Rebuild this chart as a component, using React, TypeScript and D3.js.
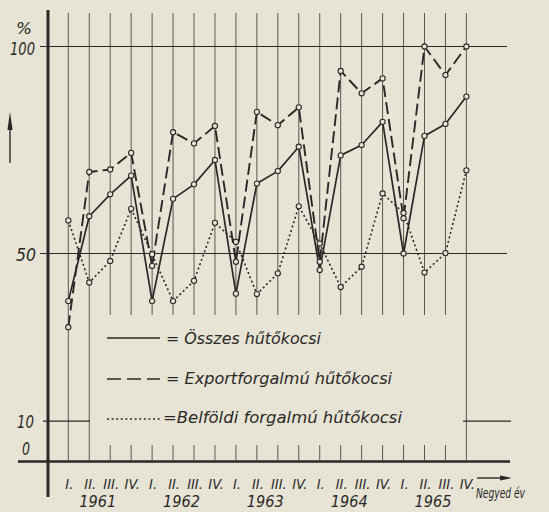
import React from 'react';
import * as d3 from 'd3';

const years = ['1961', '1962', '1963', '1964', '1965'];
const quarterLabels = ['I.', 'II.', 'III.', 'IV.'];
const yTicks = [0, 10, 50, 100];

// Összes hűtőkocsi (solid)
const osszes = [38.5, 59.0, 64.3, 68.8, 38.5, 63.2, 66.7, 72.6, 40.3, 66.9, 69.9, 75.8, 46.0, 73.7, 76.2, 81.8, 50.0, 78.4, 81.3, 87.9];
// Exportforgalmú hűtőkocsi (dashed)
const exportf = [32.2, 69.7, 70.3, 74.3, 47.0, 79.3, 76.6, 80.8, 48.0, 84.2, 81.0, 85.3, 48.0, 94.1, 88.7, 92.3, 58.5, 100.0, 93.1, 100.0];
// Belföldi forgalmú hűtőkocsi (dotted)
const belfoldi = [58.0, 43.0, 48.2, 60.8, 49.8, 38.5, 43.4, 57.4, 52.8, 40.2, 45.2, 61.4, 52.4, 41.9, 46.8, 64.5, 59.8, 45.4, 50.1, 70.1];

const W = 549;
const H = 512;
const INK = '#2a2826';
const GRID = '#4a4742';
const BG = '#e7e4d6';
const FONT = '"DejaVu Sans Condensed", "DejaVu Sans", sans-serif';

export default function App() {
  const n = osszes.length;
  const x = d3.scaleLinear().domain([0, n - 1]).range([68.3, 466.4]);
  const y = d3.scaleLinear().domain([0, 100]).range([460.5, 46.5]);
  const axisY = y(0);
  const axisX = 48;
  const line = d3.line<number>().x((_, i) => x(i)).y((d) => y(d));

  const series = [
    { data: osszes, dash: undefined as string | undefined, width: 1.7 },
    { data: exportf, dash: '12 5', width: 1.9 },
    { data: belfoldi, dash: '2 2.6', width: 1.6 },
  ];

  const legend = [
    { dash: undefined as string | undefined, label: '= Összes hűtőkocsi', ly: 338, ty: 344, tx: 166, tl: 155 },
    { dash: '14 6', label: '= Exportforgalmú hűtőkocsi', ly: 379, ty: 384, tx: 166, tl: 226 },
    { dash: '2 2.6', label: '=Belföldi forgalmú hűtőkocsi', ly: 419, ty: 423, tx: 163, tl: 239 },
  ];

  const idx = d3.range(n);

  return (
    <svg width={W} height={H} style={{ position: 'absolute', left: 0, top: 0, background: BG }}>
      <rect x={0} y={0} width={W} height={H} fill={BG} />
      {/* vertical quarter lines */}
      {idx.map((i) => {
        const long = i <= 1 || i === n - 1;
        return (
          <g key={'v' + i}>
            <line x1={x(i)} x2={x(i)} y1={13} y2={long ? axisY : 315} stroke={GRID} strokeWidth={0.9} />
            {!long && <line x1={x(i)} x2={x(i)} y1={445} y2={axisY} stroke={GRID} strokeWidth={0.9} />}
          </g>
        );
      })}
      {/* horizontal reference lines */}
      <line x1={40} x2={507} y1={y(100)} y2={y(100)} stroke={INK} strokeWidth={1.1} />
      <line x1={40} x2={507} y1={y(50)} y2={y(50)} stroke={INK} strokeWidth={1.1} />
      <line x1={43} x2={90} y1={y(10) + 2} y2={y(10) + 2} stroke={INK} strokeWidth={1.1} />
      <line x1={463} x2={511} y1={y(10) + 2} y2={y(10) + 2} stroke={INK} strokeWidth={1.1} />
      {/* axes */}
      <line x1={axisX} x2={axisX} y1={10} y2={497} stroke={INK} strokeWidth={3} />
      <line x1={18} x2={510} y1={axisY + 1} y2={axisY + 1} stroke={INK} strokeWidth={2.5} />

      {/* series */}
      {series.map((s, k) => (
        <path key={'s' + k} d={line(s.data) || ''} fill="none" stroke={INK} strokeWidth={s.width} strokeDasharray={s.dash} strokeLinejoin="round" />
      ))}
      {series.map((s, k) =>
        s.data.map((d, i) => (
          <circle key={'c' + k + '-' + i} cx={x(i)} cy={y(d)} r={2.6} fill={BG} stroke={INK} strokeWidth={1.1} />
        ))
      )}

      {/* y labels */}
      {yTicks.map((t) => {
        const pos: Record<number, [number, number, number]> = {
          100: [10, 55, 25],
          50: [16, 261, 20],
          10: [17, 428, 17],
          0: [22, 455, 8],
        };
        const [tx, ty, tl] = pos[t];
        return (
          <text key={'yt' + t} x={tx} y={ty} fontFamily={FONT} fontStyle="italic" fontSize={17} fill={INK} textLength={tl} lengthAdjust="spacingAndGlyphs">
            {t}
          </text>
        );
      })}
      <text x={16} y={34} fontFamily={FONT} fontStyle="italic" fontSize={16} fill={INK} textLength={16} lengthAdjust="spacingAndGlyphs">%</text>
      {/* vertical arrow */}
      <line x1={10} x2={10} y1={126} y2={163} stroke={INK} strokeWidth={1.4} />
      <path d="M10,112 L12.6,130 L7.4,130 Z" fill={INK} />

      {/* x labels */}
      {idx.map((i) => (
        <text key={'q' + i} x={x(i) + 1} y={489} textAnchor="middle" fontFamily={FONT} fontStyle="italic" fontSize={14.5} fill={INK}>
          {quarterLabels[i % 4]}
        </text>
      ))}
      {years.map((yr, k) => (
        <text key={'yr' + yr} x={(x(k * 4 + 1) + x(k * 4 + 2)) / 2 - 2} y={507} textAnchor="middle" fontFamily={FONT} fontStyle="italic" fontSize={16} fill={INK} textLength={37} lengthAdjust="spacingAndGlyphs">
          {yr}
        </text>
      ))}
      {/* Negyed év */}
      <line x1={477} x2={503} y1={478} y2={478} stroke={INK} strokeWidth={1.4} />
      <path d="M512,478 L500,475.5 L500,480.5 Z" fill={INK} />
      <text x={476} y={498} fontFamily={FONT} fontStyle="italic" fontSize={14} fill={INK} textLength={49} lengthAdjust="spacingAndGlyphs">
        Negyed év
      </text>

      {/* legend */}
      {legend.map((l, k) => (
        <g key={'lg' + k}>
          <line x1={107} x2={160} y1={l.ly} y2={l.ly} stroke={INK} strokeWidth={1.7} strokeDasharray={l.dash} />
          <text x={l.tx} y={l.ty} fontFamily={FONT} fontStyle="italic" fontSize={16} fill={INK} textLength={l.tl} lengthAdjust="spacingAndGlyphs">
            {l.label}
          </text>
        </g>
      ))}
    </svg>
  );
}
